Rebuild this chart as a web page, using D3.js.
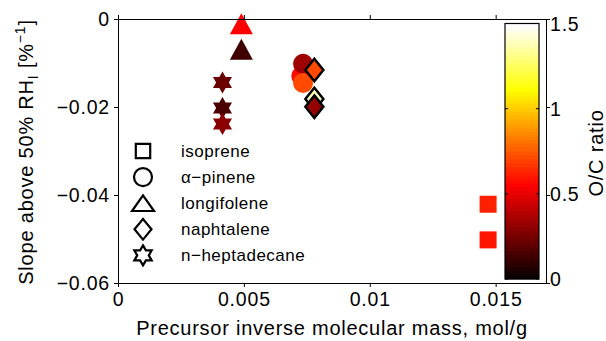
<!DOCTYPE html>
<html><head><meta charset="utf-8">
<script src="https://cdn.jsdelivr.net/npm/d3@7"></script>
<style>body{margin:0;background:#fff} text{font-family:"Liberation Sans",Arial,Helvetica,sans-serif;fill:#000}</style>
</head><body><svg id="c" width="606" height="341"></svg>
<script>
// ---- data ----
const species = ["isoprene", "α−pinene", "longifolene", "naphtalene", "n−heptadecane"];
const speciesShapes = ["square", "circle", "triangle", "diamond", "hexagram"];
const pointSpecies = [0, 0, 1, 1, 1, 2, 2, 3, 3, 3, 4, 4, 4];
const pointX = [0.0147, 0.0147, 0.00728, 0.00735, 0.00735, 0.0049, 0.0049, 0.0078, 0.0078, 0.0078, 0.00415, 0.00415, 0.00415];
const pointY = [-0.0421, -0.0502, -0.01295, -0.01016, -0.01455, -0.0011, -0.0069, -0.01159, -0.01818, -0.01993, -0.01443, -0.02023, -0.02386];
const pointOC = [0.62, 0.60, 0.58, 0.34, 0.71, 0.55, 0.13, 0.71, 1.39, 0.32, 0.22, 0.15, 0.29];
const xTicks = [0, 0.005, 0.01, 0.015];
const xTickLabels = ["0", "0.005", "0.01", "0.015"];
const yTicks = [0, -0.02, -0.04, -0.06];
const yTickLabels = ["0", "−0.02", "−0.04", "−0.06"];
const cTicks = [0, 0.5, 1, 1.5];
const cTickLabels = ["0", "0.5", "1", "1.5"];

// ---- layout ----
const svg = d3.select("#c");
const x = d3.scaleLinear().domain([0, 0.017]).range([118, 546]);
const y = d3.scaleLinear().domain([-0.06, 0]).range([283, 19]);
const cs = d3.scaleLinear().domain([0, 1.5]).range([279, 23.5]);
const TICKFONT = "19.5px", TICKLS = "0.8px";

function hot(v) {
  let k = Math.floor(v / 1.5 * 64); k = Math.max(0, Math.min(63, k)); const i = k + 1;
  const r = i <= 24 ? i / 24 : 1;
  const g = i <= 24 ? 0 : (i <= 48 ? (i - 24) / 24 : 1);
  const b = i <= 48 ? 0 : (i - 48) / 16;
  return d3.rgb(r * 255, g * 255, b * 255).toString();
}

function shapePath(shape, s) {
  const p = d3.path();
  if (shape === "square") { p.rect(-s.h, -s.h, 2 * s.h, 2 * s.h); }
  else if (shape === "circle") { p.arc(0, 0, s.r, 0, 2 * Math.PI); p.closePath(); }
  else if (shape === "triangle") { p.moveTo(0, -s.th); p.lineTo(s.tw, s.th); p.lineTo(-s.tw, s.th); p.closePath(); }
  else if (shape === "diamond") { p.moveTo(0, -s.dh); p.lineTo(s.dw, 0); p.lineTo(0, s.dh); p.lineTo(-s.dw, 0); p.closePath(); }
  else if (shape === "hexagram") {
    const R = s.R, ri = R / Math.sqrt(3);
    for (let j = 0; j < 12; j++) {
      const a = -Math.PI / 2 + j * Math.PI / 6;
      const rr = j % 2 === 0 ? R : ri;
      const px = rr * Math.cos(a), py = rr * Math.sin(a);
      if (j === 0) p.moveTo(px, py); else p.lineTo(px, py);
    }
    p.closePath();
  }
  return p.toString();
}
const dataSize = {h: 8.5, r: 10, tw: 11.5, th: 10.5, dw: 9, dh: 11.3, R: 11};
const legSize = {h: 7.2, r: 9, tw: 11, th: 7.8, dw: 8.5, dh: 10.3, R: 10};

// ---- data markers ----
const pts = pointX.map((d, i) => ({x: d, y: pointY[i], oc: pointOC[i], s: pointSpecies[i]}));
svg.append("g").selectAll("path").data(pts).join("path")
  .attr("transform", d => `translate(${x(d.x)},${y(d.y)})`)
  .attr("d", d => shapePath(speciesShapes[d.s], dataSize))
  .attr("fill", d => hot(d.oc))
  .attr("stroke", d => speciesShapes[d.s] === "diamond" ? "#000" : "none")
  .attr("stroke-width", 2.5)
  .attr("stroke-linejoin", "miter");

// ---- axes ----
function styleAxis(g) {
  g.selectAll(".domain").attr("stroke", "#000").attr("stroke-width", 1);
  g.selectAll(".tick line").attr("stroke", "#000").attr("stroke-width", 1);
  g.selectAll(".tick text").style("font-size", TICKFONT).style("letter-spacing", TICKLS).attr("fill", "#000");
}
svg.append("g").attr("transform", "translate(0,283)")
  .call(d3.axisBottom(x).tickValues(xTicks).tickFormat((d, i) => xTickLabels[i]).tickSizeInner(4).tickSizeOuter(0).tickPadding(5))
  .call(styleAxis).attr("font-family", null);
svg.append("g").attr("transform", "translate(0,19)")
  .call(d3.axisTop(x).tickValues(xTicks).tickFormat("").tickSizeInner(4).tickSizeOuter(0))
  .call(styleAxis);
svg.append("g").attr("transform", "translate(118,0)")
  .call(d3.axisLeft(y).tickValues(yTicks).tickFormat((d, i) => yTickLabels[i]).tickSizeInner(4).tickSizeOuter(0).tickPadding(4))
  .call(styleAxis).attr("font-family", null);
svg.append("g").attr("transform", "translate(546,0)")
  .call(d3.axisRight(y).tickValues(yTicks).tickFormat("").tickSizeInner(4).tickSizeOuter(0))
  .call(styleAxis);

// ---- axis labels ----
svg.append("text").attr("x", 332).attr("y", 335).attr("text-anchor", "middle")
  .style("font-size", "20px").style("letter-spacing", "0.75px")
  .text("Precursor inverse molecular mass, mol/g");
const yl = svg.append("text").attr("transform", "translate(33,152) rotate(-90)").attr("text-anchor", "middle")
  .style("font-size", "20px").style("letter-spacing", "0.8px");
yl.append("tspan").text("Slope above 50% RH");
yl.append("tspan").attr("dy", 5).style("font-size", "14px").text("I");
yl.append("tspan").attr("dy", -5).text(" [%");
yl.append("tspan").attr("dy", -8).style("font-size", "14px").text("−1");
yl.append("tspan").attr("dy", 8).text("]");

// ---- legend ----
const leg = svg.append("g");
species.forEach((name, i) => {
  const cy = 151 + i * 26.1;
  leg.append("path").attr("transform", `translate(143,${cy})`)
    .attr("d", shapePath(speciesShapes[i], legSize))
    .attr("fill", "none").attr("stroke", "#000").attr("stroke-width", 2.2);
  leg.append("text").attr("x", 181).attr("y", cy + 6).style("font-size", "17px").style("letter-spacing", "0.5px").text(name);
});

// ---- colorbar ----
const cb = svg.append("g");
const cx0 = 505, cx1 = 539;
const levels = d3.range(64);
cb.selectAll("rect.lv").data(levels).join("rect").attr("class", "lv")
  .attr("x", cx0).attr("width", cx1 - cx0)
  .attr("y", k => cs((k + 1) * 1.5 / 64) - 0.3)
  .attr("height", k => cs(k * 1.5 / 64) - cs((k + 1) * 1.5 / 64) + 0.6)
  .attr("fill", k => hot((k + 0.5) * 1.5 / 64));
cb.append("rect").attr("x", cx0).attr("y", cs(1.5)).attr("width", cx1 - cx0).attr("height", cs(0) - cs(1.5))
  .attr("fill", "none").attr("stroke", "#000").attr("stroke-width", 1.2);
cb.selectAll("line.tl").data(cTicks).join("line").attr("class", "tl")
  .attr("x1", cx0).attr("x2", cx0 + 3).attr("y1", d => cs(d)).attr("y2", d => cs(d)).attr("stroke", "#000");
cb.selectAll("line.tr").data(cTicks).join("line").attr("class", "tr")
  .attr("x1", cx1 - 3).attr("x2", cx1).attr("y1", d => cs(d)).attr("y2", d => cs(d)).attr("stroke", "#000");
cb.selectAll("text.cl").data(cTicks).join("text").attr("class", "cl")
  .attr("x", 550).attr("y", d => cs(d) + 7)
  .style("font-size", TICKFONT).style("letter-spacing", TICKLS)
  .text((d, i) => cTickLabels[i]);
svg.append("text").attr("transform", "translate(603,153) rotate(-90)").attr("text-anchor", "middle")
  .style("font-size", "20px").style("letter-spacing", "0.8px").text("O/C ratio");
</script></body></html>
